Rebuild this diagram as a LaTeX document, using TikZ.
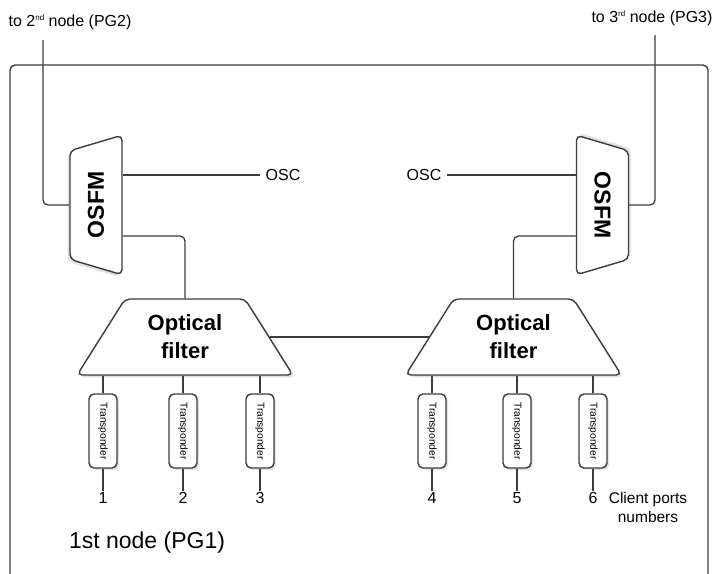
\documentclass[tikz,border=0pt]{standalone}
\usepackage{fontspec}
\usepackage{graphicx}
\setmainfont{Liberation Sans}
\usetikzlibrary{shapes.geometric,shadows,calc}
\definecolor{ln}{HTML}{3C3C3C}
\newcommand{\supsm}[1]{\raisebox{0.75ex}{\fontsize{8}{8}\selectfont #1}}
\tikzset{
  conn/.style={draw=ln,line width=1.3pt},
  frameline/.style={draw=ln,line width=1.4pt,rounded corners=5pt},
  shp/.style={draw=ln,line width=1.4pt,fill=white,rounded corners=5pt},
  osfm/.style={shp,trapezium,trapezium stretches=true,trapezium angle=60,minimum width=140pt,minimum height=52pt,inner sep=0pt,font=\fontsize{23}{26}\selectfont\bfseries},
  filt/.style={shp,trapezium,trapezium stretches=true,trapezium angle=56,minimum width=216pt,minimum height=76pt,inner sep=0pt,align=center,font=\fontsize{22}{28}\selectfont\bfseries,drop shadow={shadow xshift=2.5pt,shadow yshift=-2.5pt,fill=black!22}},
  tbox/.style={shp,rectangle,minimum width=28pt,minimum height=74pt,inner sep=0pt,font=\fontsize{10.2}{11}\selectfont,drop shadow={shadow xshift=2pt,shadow yshift=-2pt,fill=black!22}},
  port/.style={anchor=north,inner sep=1pt,font=\fontsize{16}{18}\selectfont},
  lbl/.style={inner sep=0pt,font=\fontsize{16}{18}\selectfont},
  osclbl/.style={inner sep=5pt,font=\fontsize{16}{18}\selectfont}
}
\begin{document}
\begin{tikzpicture}[x=1pt,y=-1pt]
\useasboundingbox (0,0) rectangle (717,573);
% outer frame
\draw[frameline] (10,575) -- (10,65) -- (708,65) -- (708,575);

% OSFM blocks
\node[osfm,rotate=90,drop shadow={shadow xshift=-2.5pt,shadow yshift=-2.5pt,fill=black!22}] (o1) at (96,205) {OSFM};
\node[osfm,rotate=-90,drop shadow={shadow xshift=2.5pt,shadow yshift=2.5pt,fill=black!22}] (o2) at (602.5,205) {OSFM};

% optical filters
\node[filt] (f1) at (185,337) {Optical\\filter};
\node[filt] (f2) at (513.5,337) {Optical\\filter};

% transponders
\foreach \i/\x in {1/103,2/183,3/260,4/432,5/517,6/593}{
  \node[tbox] (t\i) at (\x,431) {\rotatebox{-90}{Transponder}};
  \node[port] (p\i) at (\x,491) {\i};
  \draw[conn] (t\i.north |- f1.south) -- (t\i.north);
  \draw[conn] (t\i.south) -- (p\i.north);
}

% OSC
\node[osclbl] (osc1) at (283,175) {OSC};
\node[osclbl] (osc2) at (424,175) {OSC};
\draw[conn] (o1.south |- osc1.west) -- (osc1.west);
\draw[conn] (osc2.east) -- (osc2.east -| o2.south);

% filter to OSFM
\coordinate (c1) at ($(o1.south)+(0,31)$);
\coordinate (c2) at ($(o2.south)+(0,31)$);
\draw[conn,rounded corners=5pt] (f1.north) |- (c1);
\draw[conn,rounded corners=5pt] (f2.north) |- (c2);

% between filters
\draw[conn] (f1.east) -- (f2.west);

% to other nodes
\coordinate (up2) at (43,40);
\coordinate (up3) at (655,35);
\draw[conn,rounded corners=5pt] (o1.north) -| (up2);
\draw[conn,rounded corners=5pt] (o2.north) -| (up3);
\node[lbl] (n2) at (70,22) {to 2\supsm{nd} node (PG2)};
\node[lbl] (n3) at (652,18) {to 3\supsm{rd} node (PG3)};

% bottom labels
\node[inner sep=0pt,font=\fontsize{23}{25}\selectfont] (pg1) at (147,543) {1st node (PG1)};
\node[inner sep=0pt,align=center,font=\fontsize{15.5}{19}\selectfont] (cpn) at (648,507) {Client ports\\numbers};
\end{tikzpicture}
\end{document}
